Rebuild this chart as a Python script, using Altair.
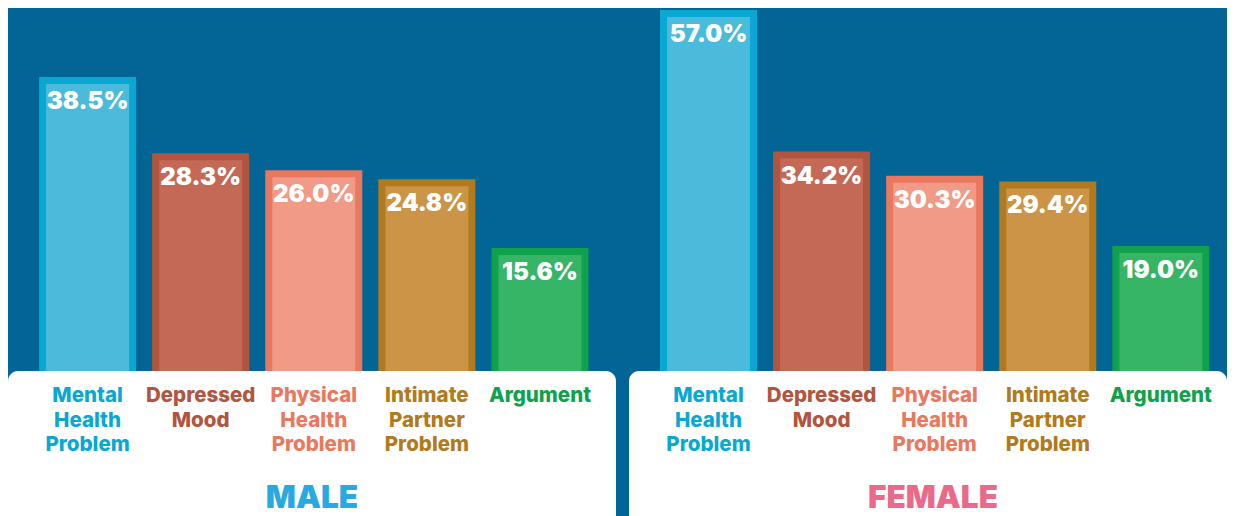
import altair as alt
import pandas as pd

categories = ["Mental Health Problem", "Depressed Mood", "Physical Health Problem",
              "Intimate Partner Problem", "Argument"]
label_lines = ["Mental\nHealth\nProblem", "Depressed\nMood", "Physical\nHealth\nProblem",
               "Intimate\nPartner\nProblem", "Argument"]
male_values = [38.5, 28.3, 26.0, 24.8, 15.6]
female_values = [57.0, 34.2, 30.3, 29.4, 19.0]
fill_colors = ["#4BBBDB", "#C56957", "#F19A87", "#CB9446", "#36B566"]
stroke_colors = ["#08A8D3", "#B1553E", "#E9795E", "#B17A1D", "#0FA14B"]
panel_titles = ["MALE", "FEMALE"]
title_colors = ["#29A9E1", "#E96A89"]

BG = "#036496"
TOP_H = 363
BOTTOM_H = 160
FONT = "Inter"


def panel(values, title, tcolor, ydom, width, pad_outer, align):
    df = pd.DataFrame({"cat": categories, "label": label_lines, "v": values})
    xs = alt.Scale(type="band", domain=categories, paddingInner=0.204,
                   paddingOuter=pad_outer, align=align)
    base = alt.Chart(df)
    x = alt.X("cat:N", scale=xs, axis=None, sort=categories)
    y = alt.Y("v:Q", scale=alt.Scale(domain=ydom, nice=False, zero=False), axis=None)
    bars = base.mark_bar(strokeWidth=7, clip=True).encode(
        x=x,
        y=y,
        y2=alt.datum(ydom[0] - 3),
        fill=alt.Fill("cat:N", scale=alt.Scale(domain=categories, range=fill_colors), legend=None),
        stroke=alt.Stroke("cat:N", scale=alt.Scale(domain=categories, range=stroke_colors), legend=None),
    )
    vals = base.transform_calculate(txt="format(datum.v, '.1f') + '%'").mark_text(
        baseline="middle", dy=21.5, font=FONT, fontSize=24, fontWeight=900, color="white"
    ).encode(x=x, y=y, text="txt:N")
    top = alt.layer(bars, vals).properties(width=width, height=TOP_H)

    labs = base.mark_text(
        baseline="top", align="center", font=FONT, fontSize=20.5, fontWeight=800,
        lineBreak="\n", lineHeight=24.5
    ).encode(
        x=alt.X("cat:N", scale=xs, axis=None, sort=categories),
        y=alt.value(15),
        text="label:N",
        fill=alt.Fill("cat:N", scale=alt.Scale(domain=categories, range=stroke_colors), legend=None),
    )
    ttl = alt.Chart(pd.DataFrame({"t": [title]})).mark_text(
        baseline="middle", align="center", font=FONT, fontSize=31.5, fontWeight=900, color=tcolor
    ).encode(x=alt.value(304), y=alt.value(128), text="t:N")
    bottom = alt.layer(labs, ttl).properties(
        width=width, height=BOTTOM_H,
        view=alt.ViewBackground(fill="white", cornerRadius=10, strokeWidth=0),
    )
    return alt.vconcat(top, bottom, spacing=0).resolve_scale(
        x="independent", y="independent", fill="independent", stroke="independent"
    )


male = panel(male_values, panel_titles[0], title_colors[0], [-0.40, 48.21], 608, 0.29, 0.527)
female = panel(female_values, panel_titles[1], title_colors[1], [-0.56, 57.88], 598, 0.2458, 0.62)

chart = alt.hconcat(male, female, spacing=13).resolve_scale(
    x="independent", y="independent", fill="independent", stroke="independent"
).properties(background=BG, padding=0).configure_view(strokeWidth=0)

chart.save("out.html", embed_options={"renderer": "svg", "actions": False})
